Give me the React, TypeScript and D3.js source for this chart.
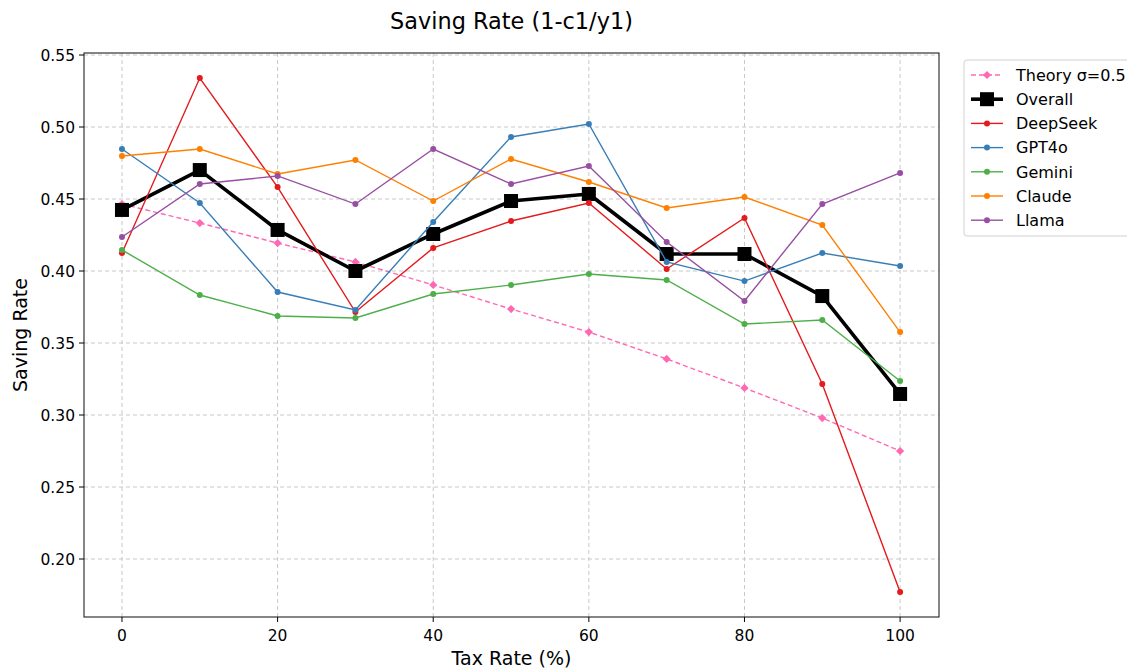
import React from "react";
import * as d3 from "d3";

const taxRates = [0, 10, 20, 30, 40, 50, 60, 70, 80, 90, 100];
const theory = [0.4465, 0.4333, 0.4194, 0.4063, 0.3903, 0.3736, 0.3576, 0.3389, 0.3188, 0.2979, 0.275];
const overall = [0.4424, 0.4701, 0.4285, 0.4, 0.4257, 0.4486, 0.4535, 0.4118, 0.4118, 0.3826, 0.3146];
const deepseek = [0.4125, 0.534, 0.4583, 0.3715, 0.416, 0.4347, 0.4472, 0.4014, 0.4368, 0.3215, 0.1771];
const gpt4o = [0.4847, 0.4472, 0.3854, 0.3729, 0.434, 0.4931, 0.5021, 0.4063, 0.393, 0.4125, 0.4035];
const gemini = [0.4146, 0.3833, 0.3688, 0.3674, 0.384, 0.3903, 0.3979, 0.3938, 0.3632, 0.366, 0.3236];
const claude = [0.4799, 0.4847, 0.4674, 0.4771, 0.4486, 0.4778, 0.4618, 0.4438, 0.4514, 0.4319, 0.3576];
const llama = [0.4236, 0.4604, 0.466, 0.4465, 0.4847, 0.4604, 0.4729, 0.4201, 0.3792, 0.4465, 0.4681];

const xTicks = [0, 20, 40, 60, 80, 100];
const yTicks = [0.2, 0.25, 0.3, 0.35, 0.4, 0.45, 0.5, 0.55];

const models = [
  { name: "DeepSeek", values: deepseek, color: "#e41a1c" },
  { name: "GPT4o", values: gpt4o, color: "#377eb8" },
  { name: "Gemini", values: gemini, color: "#4daf4a" },
  { name: "Claude", values: claude, color: "#ff7f00" },
  { name: "Llama", values: llama, color: "#984ea3" },
];

const W = 1127, H = 670;
const L = 84, R = 939, T = 53, B = 617;
const FONT = "DejaVu Sans, sans-serif";

export default function App() {
  const x = d3.scaleLinear().domain([-4.88, 105]).range([L, R]);
  const y = d3.scaleLinear().domain([0.55 - (B - 55) / 1440, 0.55 + (55 - T) / 1440]).range([B, T]);
  const line = (vals: number[]) =>
    d3.line<number>().x((_, i) => x(taxRates[i])).y((v) => y(v))(vals) || "";
  const diamond = d3.symbol().type(d3.symbolSquare).size(34)() || "";
  const gridColor = "#c8c8c8";

  const legendItems = [
    { name: "Theory σ=0.5", kind: "theory" },
    { name: "Overall", kind: "overall" },
    ...models.map((m) => ({ name: m.name, kind: "model", color: m.color })),
  ];

  return (
    <svg width={W} height={H} style={{ position: "absolute", left: 0, top: 0, background: "#fff" }} fontFamily={FONT}>
      <rect x={0} y={0} width={W} height={H} fill="#fff" />
      <text x={(L + R) / 2} y={29} textAnchor="middle" fontSize={22.4} fill="#000">Saving Rate (1-c1/y1)</text>
      {/* grid */}
      {xTicks.map((t) => (
        <line key={"gx" + t} x1={x(t)} x2={x(t)} y1={T} y2={B} stroke={gridColor} strokeWidth={1} strokeDasharray="4,3" />
      ))}
      {yTicks.map((t) => (
        <line key={"gy" + t} x1={L} x2={R} y1={y(t)} y2={y(t)} stroke={gridColor} strokeWidth={1} strokeDasharray="4,3" />
      ))}
      {/* theory */}
      <path d={line(theory)} fill="none" stroke="#ff69b4" strokeWidth={1.4} strokeDasharray="5,3" />
      {theory.map((v, i) => (
        <path key={"th" + i} d={diamond} transform={`translate(${x(taxRates[i])},${y(v)}) rotate(45)`} fill="#ff69b4" />
      ))}
      {/* overall */}
      <path d={line(overall)} fill="none" stroke="#000" strokeWidth={3.6} strokeLinejoin="round" />
      {overall.map((v, i) => (
        <rect key={"ov" + i} x={x(taxRates[i]) - 7} y={y(v) - 7} width={14} height={14} fill="#000" />
      ))}
      {/* models */}
      {models.map((m) => (
        <g key={m.name}>
          <path d={line(m.values)} fill="none" stroke={m.color} strokeWidth={1.4} />
          {m.values.map((v, i) => (
            <circle key={i} cx={x(taxRates[i])} cy={y(v)} r={3} fill={m.color} />
          ))}
        </g>
      ))}
      {/* axes frame */}
      <rect x={L} y={T} width={R - L} height={B - T} fill="none" stroke="#222" strokeWidth={1.1} />
      {xTicks.map((t) => (
        <g key={"xt" + t}>
          <line x1={x(t)} x2={x(t)} y1={B} y2={B + 5} stroke="#000" />
          <text x={x(t)} y={B + 24} textAnchor="middle" fontSize={15.5} fill="#000">{t}</text>
        </g>
      ))}
      {yTicks.map((t) => (
        <g key={"yt" + t}>
          <line x1={L - 5} x2={L} y1={y(t)} y2={y(t)} stroke="#000" />
          <text x={L - 9} y={y(t)} dy="0.36em" textAnchor="end" fontSize={15.5} fill="#000">{t.toFixed(2)}</text>
        </g>
      ))}
      <text x={(L + R) / 2} y={665} textAnchor="middle" fontSize={19} fill="#000">Tax Rate (%)</text>
      <text transform={`translate(27,${(T + B) / 2}) rotate(-90)`} textAnchor="middle" fontSize={19} fill="#000">Saving Rate</text>
      {/* legend */}
      <rect x={964} y={60} width={175} height={176} rx={3} fill="#fff" fillOpacity={0.8} stroke="#d0d0d0" strokeWidth={1} />
      {legendItems.map((it, i) => {
        const ly = 75 + i * 24.2;
        return (
          <g key={it.name}>
            {it.kind === "theory" && (
              <>
                <line x1={971} x2={1003} y1={ly} y2={ly} stroke="#ff69b4" strokeWidth={1.4} strokeDasharray="5,3" />
                <path d={diamond} transform={`translate(987,${ly}) rotate(45)`} fill="#ff69b4" />
              </>
            )}
            {it.kind === "overall" && (
              <>
                <line x1={971} x2={1003} y1={ly} y2={ly} stroke="#000" strokeWidth={3.6} />
                <rect x={980} y={ly - 7} width={14} height={14} fill="#000" />
              </>
            )}
            {it.kind === "model" && (
              <>
                <line x1={971} x2={1003} y1={ly} y2={ly} stroke={(it as any).color} strokeWidth={1.4} />
                <circle cx={987} cy={ly} r={3} fill={(it as any).color} />
              </>
            )}
            <text x={1016} y={ly} dy="0.36em" fontSize={16} fill="#000">{it.name}</text>
          </g>
        );
      })}
    </svg>
  );
}
